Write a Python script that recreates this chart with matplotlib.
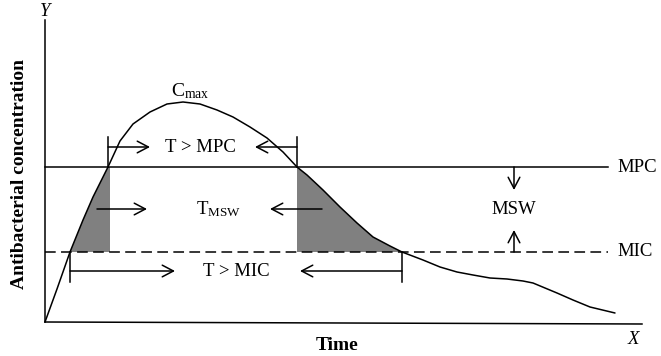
import matplotlib
matplotlib.use("Agg")
import matplotlib.pyplot as plt
import numpy as np

plt.rcParams['font.family'] = ['Liberation Serif', 'DejaVu Serif']
plt.rcParams['mathtext.fontset'] = 'custom'
plt.rcParams['mathtext.rm'] = 'Liberation Serif'
plt.rcParams['mathtext.it'] = 'Liberation Serif:italic'

# concentration-time profile (schematic units)
time = [0, 12, 25, 38, 48, 63, 75, 88, 105, 122, 138, 155, 172, 188, 205, 222,
        238, 252, 262, 278, 295, 312, 328, 345, 357, 378, 395, 412, 428, 445,
        462, 478, 488, 512, 528, 545, 570]
conc = [0, 33, 70, 102, 125, 155, 181, 198, 210, 218, 220, 218, 212, 205, 195,
        184, 170, 155, 147, 132, 115, 99, 85, 76, 70, 62, 55, 50, 47, 44,
        43, 41, 39, 29, 22, 15, 9]
MPC = 155
MIC = 70
line_labels = ["MPC", "MIC"]

time = np.array(time, float)
conc = np.array(conc, float)

fig = plt.figure(figsize=(6.61, 3.56), dpi=100)
ax = fig.add_axes([0, 0, 1, 1])
ax.set_xlim(-45, 616)
ax.set_ylim(-34, 322)
ax.axis('off')

lw = 1.1
# axes
ax.plot([0, 0], [0, 302], color='black', lw=lw)
ax.plot([0, 597], [0, -2], color='black', lw=lw)
ax.text(0, 310, 'Y', fontsize=13.5, style='italic', ha='center', va='center')
ax.text(588, -18, 'X', fontsize=13.5, style='italic', ha='center', va='center')
ax.text(292, -23, 'Time', fontsize=14, fontweight='bold', ha='center', va='center')
ax.text(-25, 148, 'Antibacterial concentration', fontsize=14, fontweight='bold',
        rotation=90, ha='center', va='center')

# threshold lines
ax.plot([0, 563], [MPC, MPC], color='black', lw=lw)
ax.plot([0, 563], [MIC, MIC], color='black', lw=lw, dashes=(7, 3.5))
ax.text(572, MPC, line_labels[0], fontsize=13.5, ha='left', va='center')
ax.text(572, MIC, line_labels[1], fontsize=13.5, ha='left', va='center')

# shaded mutant selection regions
ipk = int(np.argmax(conc))
t_up = time[:ipk]; c_up = conc[:ipk]
m = (c_up >= MIC) & (c_up <= MPC)
t_mpc1 = np.interp(MPC, c_up, t_up)
t_mic1 = np.interp(MIC, c_up, t_up)
xs = list(t_up[m]) + [t_mpc1 + 2, t_mpc1 + 2]
ys = list(c_up[m]) + [MPC, MIC]
ax.fill(xs, ys, color='#808080', lw=0)

t_dn = time[ipk:]; c_dn = conc[ipk:]
m2 = (c_dn >= MIC) & (c_dn <= MPC)
t_mpc2 = np.interp(MPC, c_dn[::-1], t_dn[::-1])
t_mic2 = np.interp(MIC, c_dn[::-1], t_dn[::-1])
xs2 = [t_mpc2] + list(t_dn[m2]) + [t_mic2, t_mpc2]
ys2 = [MPC] + list(c_dn[m2]) + [MIC, MIC]
ax.fill(xs2, ys2, color='#808080', lw=0)

# curve
ax.plot(time, conc, color='black', lw=lw, solid_joinstyle='round',
        solid_capstyle='round')

ax.text(time[ipk] + 7, conc[ipk] + 11, r'C$_{\mathregular{max}}$', fontsize=14,
        ha='center', va='center')

ap = dict(arrowstyle='->,head_length=0.8,head_width=0.42', lw=lw,
          shrinkA=0, shrinkB=0, mutation_scale=10, color='black')

def arrow(x0, y0, x1, y1):
    ax.annotate('', xy=(x1, y1), xytext=(x0, y0), arrowprops=ap)

# T > MPC
ax.plot([t_mpc1, t_mpc1], [MPC, MPC + 30], color='black', lw=lw)
ax.plot([t_mpc2, t_mpc2], [MPC, MPC + 30], color='black', lw=lw)
arrow(t_mpc1, MPC + 20, t_mpc1 + 42, MPC + 20)
arrow(t_mpc2, MPC + 20, t_mpc2 - 42, MPC + 20)
ax.text(155, MPC + 20, 'T > MPC', fontsize=13.5, ha='center', va='center')

# T_MSW
yk = 113
arrow(52, yk, 102, yk)
arrow(277, yk, 225, yk)
ax.text(173, yk, r'T$_{\mathregular{MSW}}$', fontsize=13.5, ha='center', va='center')

# T > MIC
ax.plot([t_mic1, t_mic1], [MIC, MIC - 30], color='black', lw=lw)
ax.plot([t_mic2, t_mic2], [MIC, MIC - 30], color='black', lw=lw)
arrow(t_mic1, MIC - 19, t_mic1 + 105, MIC - 19)
arrow(t_mic2, MIC - 19, t_mic2 - 102, MIC - 19)
ax.text(191, MIC - 19, 'T > MIC', fontsize=13.5, ha='center', va='center')

# MSW
arrow(469, MPC, 469, MPC - 23)
arrow(469, MIC, 469, MIC + 22)
ax.text(469, (MPC + MIC) / 2 + 0.5, 'MSW', fontsize=13.5, ha='center', va='center')

fig.savefig('out.png', dpi=100)
